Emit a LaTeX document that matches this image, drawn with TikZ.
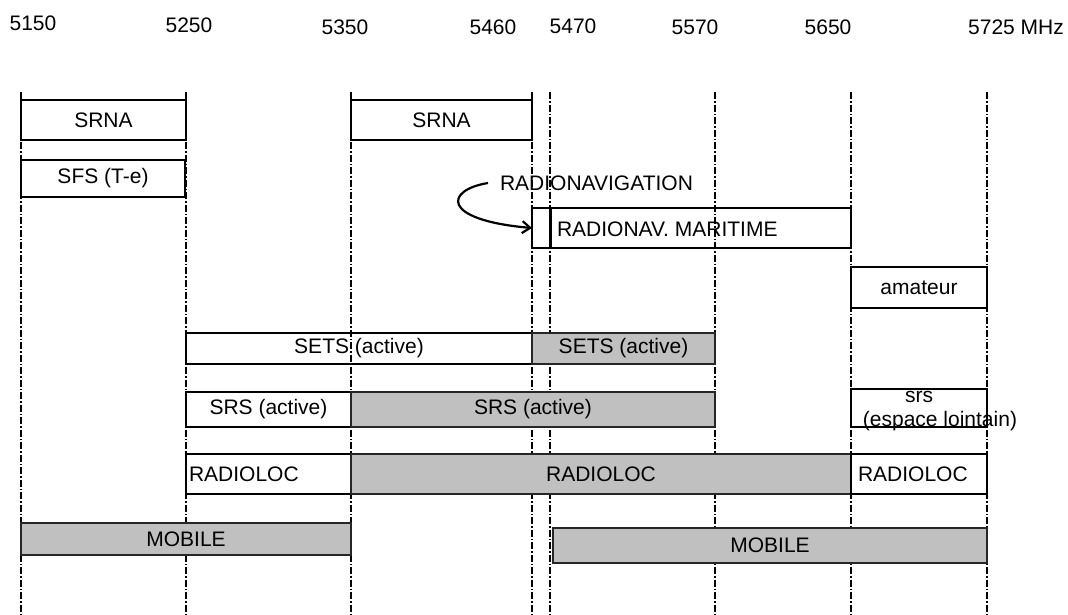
\documentclass[tikz,border=0pt]{standalone}
\usepackage{fontspec}
\setmainfont{Liberation Sans}
\usetikzlibrary{arrows.meta}
\definecolor{bandgray}{HTML}{C0C0C0}
\begin{document}
\begin{tikzpicture}[x=1pt,y=-1pt,
  font=\fontsize{21}{24}\selectfont,
  gridline/.style={line width=1.1pt, dash pattern=on 7pt off 2pt on 1.5pt off 2pt},
  band/.style={draw=black, line width=2pt, rectangle, inner sep=0pt, outer sep=0pt, anchor=north west},
  shaded/.style={band, draw=black!85, fill=bandgray},
  lbl/.style={inner sep=0pt, outer sep=0pt}
]
\useasboundingbox (0,0) rectangle (1068,614);

% frequency labels
\node[lbl] (f5150) at (33,23) {5150};
\node[lbl] (f5250) at (189,25) {5250};
\node[lbl] (f5350) at (345,27) {5350};
\node[lbl] (f5460) at (493,27) {5460};
\node[lbl] (f5470) at (573,26) {5470};
\node[lbl] (f5570) at (695,27) {5570};
\node[lbl] (f5650) at (828,27) {5650};
\node[lbl] (f5725) at (1016,27) {5725 MHz};

% vertical dash-dot lines
\foreach \xx in {21,186,351,532,550,715,851,987}
  \draw[gridline] (\xx,92) -- (\xx,614);

% bands
\node[band, minimum width=165, minimum height=40] (srna1) at (21,100) {SRNA};
\node[band, minimum width=181, minimum height=40] (srna2) at (351,100) {SRNA};
\node[band, minimum width=164, minimum height=37] (sfs) at (21,160) {SFS (T-e)};

\node[band, minimum width=319, minimum height=40] (maritime) at (532,208) {};
\draw[line width=3pt] ([xshift=18]maritime.north west) -- ([xshift=18]maritime.south west);
\node[lbl, anchor=west] (maritimetxt) at (557,229) {RADIONAV. MARITIME};
\node[lbl, anchor=west] (radionav) at (500,183) {RADIONAVIGATION};
\draw[line width=2.2pt, -{Straight Barb[length=8pt,width=12pt]}]
  ([xshift=-12]radionav.west) .. controls (445,190) and (440,220) .. (maritime.west);

\node[band, minimum width=136, minimum height=41] (amateur) at (851,267) {amateur};

\node[band, minimum width=346, minimum height=31] (setsA) at (186,333) {SETS (active)};
\node[shaded, minimum width=183, minimum height=31] (setsB) at (532,333) {SETS (active)};

\node[band, minimum width=165, minimum height=35] (srsA) at (186,392) {SRS (active)};
\node[shaded, minimum width=364, minimum height=35] (srsB) at (351,392) {SRS (active)};

\node[band, minimum width=136, minimum height=38] (srsdeep) at (851,389) {};
\node[lbl] (srsdeeptxt) at (919,397) {srs};
\node[lbl] (srsdeeptxtb) at (940,421) {(espace lointain)};

\node[band, minimum width=165, minimum height=40] (radiolocA) at (186,454) {};
\node[lbl, anchor=west] (radiolocAtxt) at ([xshift=3]radiolocA.west) {RADIOLOC};
\node[shaded, minimum width=500, minimum height=40] (radiolocB) at (351,454) {RADIOLOC};
\node[band, minimum width=136, minimum height=40] (radiolocC) at (851,454) {};
\node[lbl, anchor=west] (radiolocCtxt) at ([xshift=7]radiolocC.west) {RADIOLOC};

\node[shaded, minimum width=330, minimum height=32] (mobileA) at (21,523) {MOBILE};
\node[shaded, minimum width=434, minimum height=35] (mobileB) at (553,528) {MOBILE};
\end{tikzpicture}
\end{document}
